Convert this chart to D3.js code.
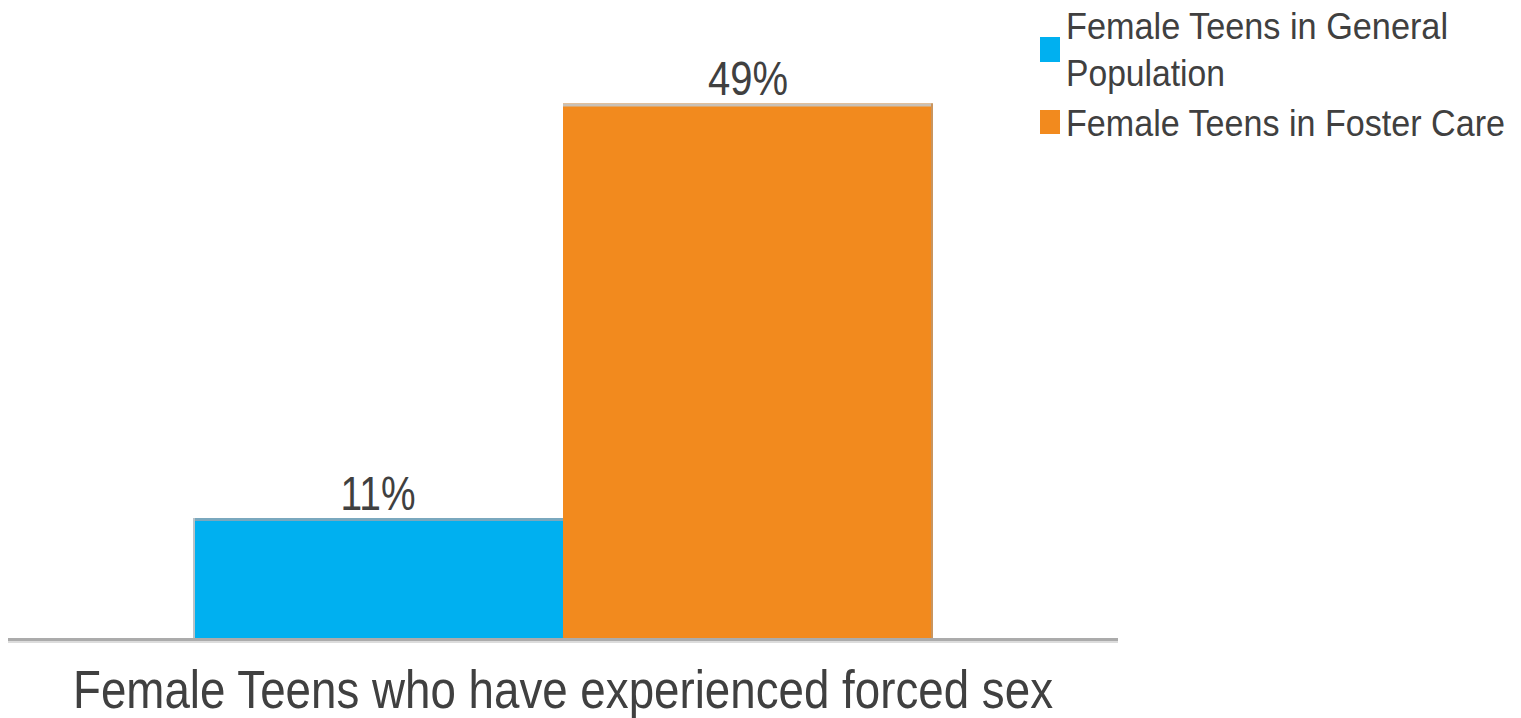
<!DOCTYPE html>
<html>
<head>
<meta charset="utf-8">
<script src="https://cdn.jsdelivr.net/npm/d3@7"></script>
<style>
  html, body { margin: 0; padding: 0; background: #fff; }
  svg { display: block; font-family: "Liberation Sans", Arial, sans-serif; }
</style>
</head>
<body>
<svg id="chart" width="1521" height="718"></svg>
<script>
const categories = ["Female Teens who have experienced forced sex"];
const seriesNames = ["Female Teens in General Population", "Female Teens in Foster Care"];
const seriesValues = [11, 49];
const seriesColors = ["#00B0F0", "#F28A1E"];
const valueLabels = ["11%", "49%"];
const legendLines = [["Female Teens in General", "Population"], ["Female Teens in Foster Care"]];

const svg = d3.select("#chart");
const plot = { left: 8, right: 1118, top: 38, bottom: 638 };

const x0 = d3.scaleBand().domain(categories).range([plot.left, plot.right]).padding(0.2);
const x1 = d3.scaleBand().domain(seriesNames).range([0, x0.bandwidth()]).padding(0);
const y = d3.scaleLinear().domain([0, 55]).range([plot.bottom, plot.top]);

const data = seriesNames.map((s, i) => ({ series: s, value: seriesValues[i], color: seriesColors[i], label: valueLabels[i], cat: categories[0] }));

const g = svg.append("g");

// bars
g.selectAll("rect.bar").data(data).enter().append("rect")
  .attr("class", "bar")
  .attr("x", d => x0(d.cat) + x1(d.series))
  .attr("y", d => y(d.value))
  .attr("width", x1.bandwidth())
  .attr("height", d => y(0) - y(d.value))
  .attr("fill", d => d.color);

// subtle edge lines on bars
const topColors = ["#7aa8be", "#c9c1b7"];
g.selectAll("line.bartop").data(data).enter().append("line")
  .attr("x1", d => x0(d.cat) + x1(d.series))
  .attr("x2", d => x0(d.cat) + x1(d.series) + x1.bandwidth())
  .attr("y1", d => y(d.value) + 1.5)
  .attr("y2", d => y(d.value) + 1.5)
  .attr("stroke", (d, i) => topColors[i])
  .attr("stroke-width", 3);
g.append("line")
  .attr("x1", x0(categories[0]) + 1).attr("x2", x0(categories[0]) + 1)
  .attr("y1", y(seriesValues[0])).attr("y2", y(0))
  .attr("stroke", "#b9c3c8").attr("stroke-width", 2);
g.append("line")
  .attr("x1", x0(categories[0]) + x0.bandwidth() - 1).attr("x2", x0(categories[0]) + x0.bandwidth() - 1)
  .attr("y1", y(seriesValues[1])).attr("y2", y(0))
  .attr("stroke", "#c9955f").attr("stroke-width", 2);

// axis
const xAxis = d3.axisBottom(x0).tickSize(0).tickPadding(0);
const axG = svg.append("g").attr("transform", `translate(0,${plot.bottom})`).call(xAxis);
axG.select(".domain").remove();
axG.selectAll(".tick text").remove();
svg.append("line").attr("x1", plot.left).attr("x2", plot.right)
  .attr("y1", plot.bottom + 1.5).attr("y2", plot.bottom + 1.5)
  .attr("stroke", "#ababab").attr("stroke-width", 3);
svg.append("line").attr("x1", plot.left).attr("x2", plot.right)
  .attr("y1", plot.bottom + 4).attr("y2", plot.bottom + 4)
  .attr("stroke", "#dcdcdc").attr("stroke-width", 2);

// category label
svg.append("text")
  .attr("x", x0(categories[0]) + x0.bandwidth() / 2)
  .attr("y", 708)
  .attr("text-anchor", "middle")
  .attr("font-size", 53)
  .attr("fill", "#404040")
  .attr("textLength", 980)
  .attr("lengthAdjust", "spacingAndGlyphs")
  .text(categories[0]);

// value labels
const labelWidths = [75, 80];
g.selectAll("text.val").data(data).enter().append("text")
  .attr("x", d => x0(d.cat) + x1(d.series) + x1.bandwidth() / 2)
  .attr("y", d => y(d.value) - 8)
  .attr("text-anchor", "middle")
  .attr("font-size", 48)
  .attr("fill", "#404040")
  .attr("textLength", (d, i) => labelWidths[i])
  .attr("lengthAdjust", "spacingAndGlyphs")
  .text(d => d.label);

// legend
const legend = svg.append("g");
const legendSquares = [{ y: 37, h: 25 }, { y: 110, h: 24 }];
const legendText = [
  [{ t: legendLines[0][0], y: 39, w: 382 }, { t: legendLines[0][1], y: 86, w: 159 }],
  [{ t: legendLines[1][0], y: 136, w: 439 }]
];
const legendFont = 33;
const legendScaleY = 37 / legendFont;
seriesNames.forEach((s, i) => {
  legend.append("rect")
    .attr("x", 1040).attr("y", legendSquares[i].y)
    .attr("width", 20).attr("height", legendSquares[i].h)
    .attr("fill", seriesColors[i]);
  legendText[i].forEach(l => {
    legend.append("text")
      .attr("transform", `translate(1066,${l.y}) scale(1,${legendScaleY})`)
      .attr("x", 0).attr("y", 0)
      .attr("font-size", legendFont)
      .attr("fill", "#404040")
      .attr("textLength", l.w)
      .attr("lengthAdjust", "spacingAndGlyphs")
      .text(l.t);
  });
});
</script>
</body>
</html>
